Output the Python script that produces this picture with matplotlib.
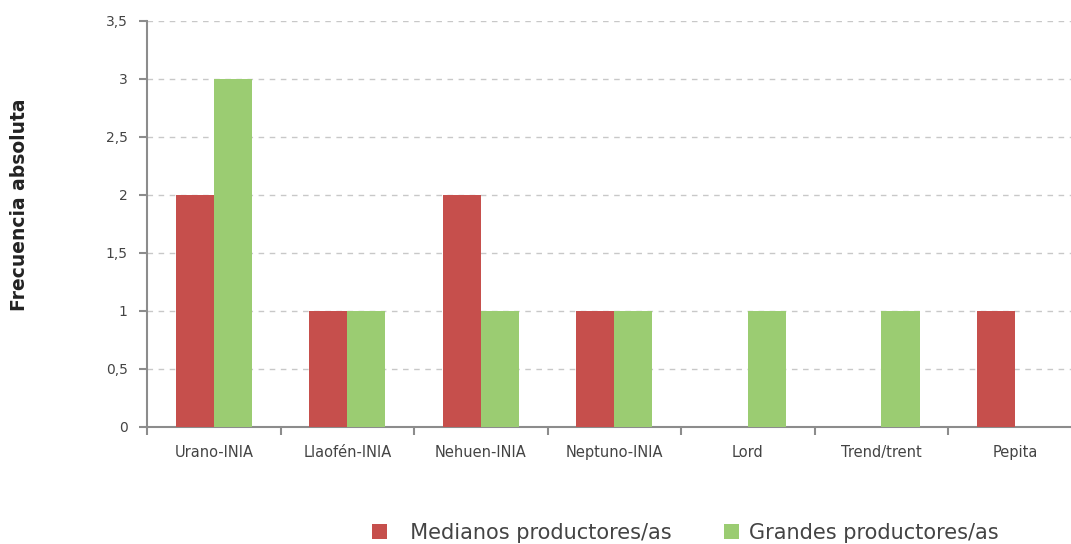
import matplotlib
matplotlib.use("Agg")
import matplotlib.pyplot as plt
import numpy as np
from matplotlib.patches import Patch

categories = ["Urano-INIA", "Llaofén-INIA", "Nehuen-INIA", "Neptuno-INIA", "Lord", "Trend/trent", "Pepita"]
medianos = [2, 1, 2, 1, 0, 0, 1]
grandes = [3, 1, 1, 1, 1, 1, 0]
yticks = [0, 0.5, 1, 1.5, 2, 2.5, 3, 3.5]
ytick_labels = ["0", "0,5", "1", "1,5", "2", "2,5", "3", "3,5"]
series_names = ["Medianos productores/as", "Grandes productores/as"]

plt.rcParams['font.family'] = ['DejaVu Sans']
RED = "#C64F4C"
GREEN = "#9BCC72"
AXC = "#8C8C8C"
TXT = "#444444"

fig = plt.figure(figsize=(10.71, 5.44), dpi=100)
ax = fig.add_axes([147/1071, 117/544, (1081.75-147)/1071, 406/544])

x = np.arange(len(categories))
w = 0.285
ax.bar(x - w/2, medianos, width=w, color=RED, zorder=3)
ax.bar(x + w/2, grandes, width=w, color=GREEN, zorder=3)

ax.set_xlim(-0.5, len(categories) - 0.5)
ax.set_ylim(0, 3.5)
ax.set_yticks(yticks)
ax.set_yticklabels(ytick_labels, fontsize=10, color=TXT)
ax.yaxis.grid(True, linestyle=(0, (4, 4)), color="#C8C8C8", linewidth=1, zorder=0)
ax.set_axisbelow(True)

ax.set_xticks(x)
ax.set_xticklabels(categories, fontsize=10.5, color=TXT)
ax.tick_params(axis='x', length=0, pad=13)
ax.set_xticks(np.arange(len(categories) + 1) - 0.5, minor=True)
ax.tick_params(axis='x', which='minor', length=6, width=1.5, color=AXC)
ax.tick_params(axis='y', length=6, width=1.5, color=AXC, pad=8)

for s in ["top", "right"]:
    ax.spines[s].set_visible(False)
for s in ["left", "bottom"]:
    ax.spines[s].set_color(AXC)
    ax.spines[s].set_linewidth(1.5)

fig.text(20/1071, 1 - 205/544, "Frecuencia absoluta", rotation=90, fontsize=13.5,
         fontweight="bold", color="#222222", ha="center", va="center")

handles = [Patch(facecolor=RED), Patch(facecolor=GREEN)]
fig.legend(handles, ["  " + series_names[0], series_names[1]], loc="center",
           bbox_to_anchor=(685/1071, 1 - 533/544),
           ncol=2, frameon=False, fontsize=15, handlelength=0.75, handleheight=0.75,
           columnspacing=2.5, handletextpad=0.45, labelcolor=TXT)

fig.savefig("out.png", dpi=100)
